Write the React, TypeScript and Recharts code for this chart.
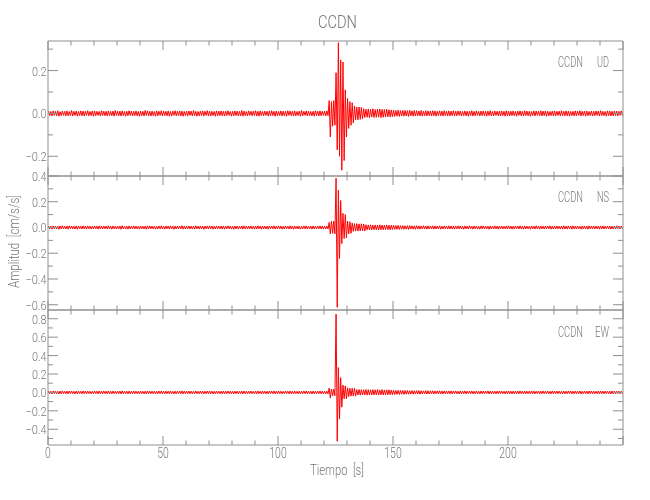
import React from "react";
import { LineChart, Line, XAxis, YAxis } from "recharts";

// tiempo (s) y amplitudes en milésimas de cm/s/s: pico alto / pico bajo por cada segundo
const timeTicks = [0, 10, 20, 30, 40, 50, 60, 70, 80, 90, 100, 110, 120, 130, 140, 150, 160, 170, 180, 190, 200, 210, 220, 230, 240, 250];
const timeLabels = [0, 50, 100, 150, 200];

const udHigh = [
  11, 9, 12, 10, 13, 8, 11, 10, 12, 9, 14, 10, 11, 9, 12, 11, 10, 13, 9, 11, 12, 10, 9, 13, 11,
  10, 12, 9, 11, 14, 10, 11, 12, 9, 10, 13, 11, 10, 12, 9, 11, 10, 14, 12, 10, 11, 9, 12, 10, 13,
  11, 10, 12, 9, 11, 13, 10, 12, 11, 9, 10, 12, 11, 14, 10, 9, 11, 12, 10, 13, 11, 10, 9, 12, 11,
  12, 10, 11, 13, 9, 10, 12, 11, 10, 14, 11, 9, 12, 10, 11, 13, 10, 12, 9, 11, 10, 12, 13, 10, 11,
  9, 12, 11, 10, 13, 11, 10, 12, 9, 11, 14, 10, 12, 11, 9, 10, 13, 11, 12, 10, 11, 12, 60, 55, 60,
  190, 330, 250, 240, 110, 70, 55, 50, 35, 30, 30, 28, 22, 20, 21, 19, 22, 18, 20, 21, 19, 18, 20, 17, 16,
  15, 14, 16, 13, 15, 14, 13, 15, 12, 14, 13, 12, 14, 11, 13, 12, 11, 13, 12, 10, 12, 11, 13, 10, 12,
  11, 13, 10, 12, 11, 9, 12, 10, 11, 13, 10, 12, 9, 11, 12, 10, 11, 13, 9, 12, 10, 11, 12, 10, 13,
  11, 10, 12, 9, 11, 12, 10, 13, 11, 10, 9, 12, 11, 10, 13, 11, 12, 10, 9, 11, 12, 10, 11, 13, 10,
  12, 11, 9, 10, 12, 11, 13, 10, 11, 12, 9, 11, 10, 12, 11, 13, 10, 9, 12, 11, 10, 12, 11, 10, 12,
];
const udLow = [
  -10, -12, -9, -11, -13, -10, -9, -12, -11, -10, -12, -9, -13, -10, -11, -12, -9, -11, -10, -13, -11, -9, -12, -10, -11,
  -12, -10, -11, -13, -9, -11, -12, -10, -13, -11, -9, -12, -10, -11, -13, -10, -12, -9, -11, -12, -10, -13, -11, -9, -12,
  -10, -11, -13, -12, -9, -11, -10, -12, -13, -10, -11, -9, -12, -10, -13, -11, -10, -12, -9, -11, -12, -10, -13, -11, -10,
  -11, -12, -10, -9, -13, -11, -10, -12, -11, -13, -10, -12, -9, -11, -10, -12, -13, -10, -11, -9, -12, -11, -10, -13, -11,
  -10, -12, -11, -13, -9, -10, -12, -11, -10, -13, -11, -9, -12, -10, -11, -13, -10, -12, -11, -9, -12, -10, -110, -60, -55,
  -170, -200, -265, -220, -110, -70, -55, -45, -30, -30, -28, -25, -19, -18, -20, -17, -19, -18, -17, -20, -18, -17, -16, -17, -15,
  -14, -13, -14, -12, -13, -12, -14, -11, -13, -12, -11, -12, -13, -11, -12, -10, -12, -11, -13, -10, -11, -12, -10, -11, -12,
  -10, -12, -11, -9, -12, -10, -11, -13, -10, -12, -11, -9, -12, -10, -11, -13, -10, -11, -12, -9, -11, -12, -10, -13, -11,
  -12, -10, -11, -13, -9, -11, -12, -10, -11, -13, -10, -12, -9, -11, -12, -10, -13, -11, -10, -12, -11, -9, -12, -10, -11,
  -11, -13, -10, -12, -11, -9, -12, -10, -13, -11, -10, -12, -11, -9, -12, -10, -11, -13, -10, -12, -11, -10, -12, -9, -11,
];

const nsHigh = [
  12, 10, 13, 11, 9, 12, 14, 10, 11, 13, 12, 9, 11, 12, 10, 13, 11, 12, 10, 9, 12, 11, 13, 10, 12,
  11, 13, 10, 12, 9, 11, 12, 14, 10, 11, 12, 10, 13, 11, 9, 12, 10, 11, 13, 12, 10, 11, 9, 12, 13,
  10, 12, 11, 13, 9, 11, 10, 12, 14, 11, 10, 12, 11, 9, 13, 10, 12, 11, 10, 12, 13, 11, 9, 12, 10,
  11, 12, 10, 13, 11, 9, 12, 11, 10, 12, 13, 10, 11, 12, 9, 11, 13, 10, 12, 11, 10, 12, 11, 13, 10,
  12, 11, 9, 12, 10, 13, 11, 12, 10, 11, 9, 12, 13, 10, 11, 12, 10, 11, 13, 12, 10, 11, 40, 50, 50,
  383, 290, 210, 110, 100, 50, 45, 35, 30, 30, 28, 29, 27, 22, 20, 21, 19, 20, 18, 21, 19, 18, 20, 17, 18,
  16, 15, 16, 14, 15, 13, 14, 15, 13, 12, 14, 13, 12, 14, 11, 13, 12, 13, 11, 12, 13, 10, 12, 11, 13,
  12, 10, 11, 13, 12, 10, 12, 11, 13, 10, 12, 11, 9, 12, 13, 11, 10, 12, 11, 13, 10, 12, 11, 9, 12,
  13, 11, 10, 12, 11, 13, 10, 12, 11, 9, 12, 10, 13, 11, 12, 10, 11, 12, 13, 10, 11, 12, 10, 11, 13,
  10, 12, 11, 13, 10, 12, 9, 11, 12, 10, 13, 11, 12, 10, 11, 12, 13, 10, 11, 12, 10, 11, 13, 12, 11,
];
const nsLow = [
  -11, -13, -10, -12, -14, -11, -10, -12, -13, -10, -11, -12, -14, -10, -12, -11, -13, -10, -12, -11, -10, -13, -11, -12, -10,
  -12, -11, -13, -10, -12, -11, -14, -10, -12, -13, -11, -10, -12, -11, -13, -10, -12, -14, -11, -10, -12, -13, -11, -10, -12,
  -13, -10, -12, -11, -14, -12, -10, -11, -13, -12, -10, -11, -12, -13, -10, -12, -11, -14, -10, -12, -11, -13, -12, -10, -11,
  -12, -13, -11, -10, -12, -14, -11, -12, -10, -13, -11, -12, -10, -11, -13, -12, -10, -14, -11, -12, -13, -10, -11, -12, -10,
  -11, -13, -12, -10, -12, -11, -14, -10, -12, -13, -11, -10, -12, -11, -13, -12, -10, -11, -12, -13, -11, -12, -50, -45, -50,
  -620, -240, -125, -86, -80, -50, -45, -30, -28, -28, -27, -26, -28, -18, -18, -19, -17, -18, -20, -17, -18, -16, -17, -18, -16,
  -15, -14, -15, -13, -14, -13, -15, -12, -13, -14, -12, -13, -11, -12, -13, -12, -11, -13, -12, -11, -13, -12, -10, -12, -11,
  -12, -13, -11, -10, -12, -14, -11, -12, -10, -13, -11, -12, -13, -10, -11, -12, -14, -11, -12, -10, -13, -11, -12, -10, -12,
  -11, -13, -12, -10, -12, -11, -13, -12, -10, -14, -11, -12, -10, -13, -11, -12, -10, -11, -13, -12, -11, -10, -12, -13, -11,
  -12, -10, -13, -11, -12, -10, -14, -11, -12, -13, -10, -11, -12, -10, -13, -11, -12, -10, -11, -13, -12, -11, -10, -12, -11,
];

const ewHigh = [
  15, 13, 16, 14, 12, 15, 17, 13, 14, 16, 15, 12, 14, 15, 13, 16, 14, 15, 13, 12, 15, 14, 16, 13, 15,
  14, 16, 13, 15, 12, 14, 15, 17, 13, 14, 15, 13, 16, 14, 12, 15, 13, 14, 16, 15, 13, 14, 12, 15, 16,
  13, 15, 14, 16, 12, 14, 13, 15, 17, 14, 13, 15, 14, 12, 16, 13, 15, 14, 13, 15, 16, 14, 12, 15, 13,
  14, 15, 13, 16, 14, 12, 15, 14, 13, 15, 16, 13, 14, 15, 12, 14, 16, 13, 15, 14, 13, 15, 14, 16, 13,
  15, 14, 12, 15, 13, 16, 14, 15, 13, 14, 12, 15, 16, 13, 14, 15, 13, 14, 16, 15, 13, 14, 47, 36, 36,
  850, 270, 160, 80, 70, 50, 45, 45, 45, 30, 32, 30, 29, 31, 30, 28, 30, 29, 31, 28, 30, 27, 29, 28, 26,
  24, 22, 23, 21, 22, 20, 21, 19, 20, 18, 19, 20, 18, 17, 19, 18, 17, 18, 16, 17, 18, 16, 17, 15, 16,
  17, 15, 16, 14, 16, 15, 17, 14, 15, 16, 14, 15, 13, 16, 15, 14, 16, 15, 13, 15, 14, 16, 15, 13, 15,
  16, 14, 15, 13, 15, 16, 14, 15, 13, 14, 16, 15, 13, 15, 14, 16, 14, 15, 13, 16, 14, 15, 14, 13, 15,
  14, 16, 15, 13, 15, 14, 16, 13, 15, 14, 16, 15, 14, 13, 15, 16, 14, 15, 13, 14, 16, 15, 14, 15, 13,
];
const ewLow = [
  -14, -16, -13, -15, -17, -14, -13, -15, -16, -13, -14, -15, -17, -13, -15, -14, -16, -13, -15, -14, -13, -16, -14, -15, -13,
  -15, -14, -16, -13, -15, -14, -17, -13, -15, -16, -14, -13, -15, -14, -16, -13, -15, -17, -14, -13, -15, -16, -14, -13, -15,
  -16, -13, -15, -14, -17, -15, -13, -14, -16, -15, -13, -14, -15, -16, -13, -15, -14, -17, -13, -15, -14, -16, -15, -13, -14,
  -15, -16, -14, -13, -15, -17, -14, -15, -13, -16, -14, -15, -13, -14, -16, -15, -13, -17, -14, -15, -16, -13, -14, -15, -13,
  -14, -16, -15, -13, -15, -14, -17, -13, -15, -16, -14, -13, -15, -14, -16, -15, -13, -14, -15, -16, -14, -15, -60, -36, -36,
  -530, -290, -160, -70, -70, -45, -40, -40, -40, -28, -30, -28, -27, -29, -28, -27, -28, -26, -29, -27, -28, -26, -27, -25, -24,
  -23, -21, -22, -20, -21, -19, -20, -18, -19, -17, -18, -19, -17, -16, -18, -17, -16, -17, -15, -16, -17, -15, -16, -14, -15,
  -16, -14, -15, -17, -15, -14, -16, -13, -15, -16, -14, -15, -17, -14, -15, -13, -16, -14, -15, -16, -13, -15, -14, -16, -15,
  -14, -16, -15, -13, -15, -14, -16, -15, -13, -17, -14, -15, -13, -16, -14, -15, -13, -14, -16, -15, -14, -13, -15, -16, -14,
  -15, -13, -16, -14, -15, -13, -17, -14, -15, -16, -13, -14, -15, -13, -16, -14, -15, -13, -14, -16, -15, -14, -13, -15, -14,
];

const udTicks = [-0.2, -0.1, 0, 0.1, 0.2, 0.3];
const udLabels = [-0.2, 0, 0.2];
const nsTicks = [-0.6, -0.5, -0.4, -0.3, -0.2, -0.1, 0, 0.1, 0.2, 0.3, 0.4];
const nsLabels = [-0.6, -0.4, -0.2, 0, 0.2, 0.4];
const ewTicks = [-0.5, -0.4, -0.3, -0.2, -0.1, 0, 0.1, 0.2, 0.3, 0.4, 0.5, 0.6, 0.7, 0.8];
const ewLabels = [-0.4, -0.2, 0, 0.2, 0.4, 0.6, 0.8];

const AXIS = "#8f8f8f";
const TEXT = "#777777";
const FONT = 'Roboto, "DejaVu Sans", sans-serif';
const LEFT = 48;
const RIGHT = 623;
// capa propia: suavizado en gris, sin franjas de color en los textos estrechos
const LAYER = { position: "absolute", left: 0, top: 0, willChange: "transform" } as const;

const toPoints = (hi: number[], lo: number[]) =>
  hi.flatMap((h, i) => [
    { t: i + 0.25, v: h / 1000 },
    { t: i + 0.75, v: lo[i] / 1000 },
  ]);

const isIn = (list: number[], v: number) => list.some((l) => Math.abs(l - v) < 1e-6);
const fmt = (v: number) => (Math.abs(v) < 1e-9 ? "0.0" : v.toFixed(1).replace("-", "\u2212"));
// ancho estrecho de las etiquetas, como la fuente vectorial del original
const narrow = (s: string) =>
  s.split("").reduce((w, c) => w + (c === "." ? 3 : c === "\u2212" ? 6.5 : 5.8), 0);

const NarrowText = ({ children, ...rest }: any) => (
  <text
    fill={TEXT}
    fontFamily={FONT}
    fontWeight={300}
    textLength={narrow(String(children))}
    lengthAdjust="spacingAndGlyphs"
    {...rest}
  >
    {children}
  </text>
);

const XTick = ({ x, y, payload, side, showLabel }: any) => {
  const v = payload.value;
  const major = v % 50 === 0;
  const len = major ? 9 : 4.5;
  const dir = side === "bottom" ? -1 : 1;
  return (
    <g>
      <line x1={x} x2={x} y1={y} y2={y + dir * len} stroke={AXIS} />
      {showLabel && isIn(timeLabels, v) && (
        <NarrowText x={x} y={y + 13} textAnchor="middle" fontSize={14}>
          {String(v)}
        </NarrowText>
      )}
    </g>
  );
};

const YTick = ({ x, y, payload, side, labels }: any) => {
  const v = payload.value;
  const major = isIn(labels, v);
  const len = major ? 10 : 5;
  const dir = side === "left" ? 1 : -1;
  return (
    <g>
      <line x1={x} x2={x + dir * len} y1={y} y2={y} stroke={AXIS} />
      {side === "left" && major && (
        <NarrowText x={x - 1.5} y={y + 5} textAnchor="end" fontSize={13}>
          {fmt(v)}
        </NarrowText>
      )}
    </g>
  );
};

type PanelProps = {
  hi: number[];
  lo: number[];
  domain: [number, number];
  ticks: number[];
  labels: number[];
  top: number;
  bottom: number;
  timeAxis?: boolean;
};

const Panel = ({ hi, lo, domain, ticks, labels, top, bottom, timeAxis }: PanelProps) => {
  const data = toPoints(hi, lo);
  return (
    <div style={LAYER}>
      <LineChart
        width={650}
        height={500}
        data={data}
        margin={{ top: top - 1, right: 0, bottom: 500 - bottom - 1, left: 0 }}
      >
        <XAxis
          xAxisId="b"
          type="number"
          dataKey="t"
          domain={[0, 250]}
          ticks={timeTicks}
          interval={0}
          height={1}
          allowDataOverflow
          tickSize={0}
          tickMargin={0}
          tickLine={false}
          axisLine={{ stroke: AXIS }}
          tick={(p: any) => <XTick {...p} side="bottom" showLabel={timeAxis} />}
        />
        <XAxis
          xAxisId="t"
          orientation="top"
          type="number"
          dataKey="t"
          domain={[0, 250]}
          ticks={timeTicks}
          interval={0}
          height={1}
          allowDataOverflow
          tickSize={0}
          tickMargin={0}
          tickLine={false}
          axisLine={{ stroke: AXIS }}
          tick={(p: any) => <XTick {...p} side="top" />}
        />
        <YAxis
          yAxisId="l"
          type="number"
          domain={domain}
          ticks={ticks}
          interval={0}
          width={LEFT}
          allowDataOverflow
          tickSize={0}
          tickMargin={0}
          tickLine={false}
          axisLine={{ stroke: AXIS }}
          tick={(p: any) => <YTick {...p} side="left" labels={labels} />}
        />
        <YAxis
          yAxisId="r"
          orientation="right"
          type="number"
          domain={domain}
          ticks={ticks}
          interval={0}
          width={650 - RIGHT}
          allowDataOverflow
          tickSize={0}
          tickMargin={0}
          tickLine={false}
          axisLine={{ stroke: AXIS }}
          tick={(p: any) => <YTick {...p} side="right" labels={labels} />}
        />
        <Line
          xAxisId="b"
          yAxisId="l"
          type="linear"
          dataKey="v"
          stroke="#ff0000"
          strokeWidth={1}
          dot={false}
          isAnimationActive={false}
        />
        <Line
          xAxisId="t"
          yAxisId="r"
          type="linear"
          dataKey="v"
          stroke="none"
          dot={false}
          isAnimationActive={false}
        />
      </LineChart>
    </div>
  );
};

export default function App() {
  const t = { fill: TEXT, fontFamily: FONT, fontWeight: 300, lengthAdjust: "spacingAndGlyphs" } as any;
  return (
    <div style={{ position: "absolute", left: 0, top: 0, width: 650, height: 500, background: "#fff" }}>
      <Panel hi={udHigh} lo={udLow} domain={[-0.292, 0.338]} ticks={udTicks} labels={udLabels} top={41} bottom={176} />
      <Panel hi={nsHigh} lo={nsLow} domain={[-0.641, 0.4]} ticks={nsTicks} labels={nsLabels} top={176} bottom={310} />
      <Panel hi={ewHigh} lo={ewLow} domain={[-0.571, 0.895]} ticks={ewTicks} labels={ewLabels} top={310} bottom={445} timeAxis />
      <svg width={650} height={500} style={{ ...LAYER, pointerEvents: "none" }}>
        <text x={318} y={28} fontSize={19} textLength={39} {...t}>CCDN</text>
        <text x={310} y={475} fontSize={15} textLength={54} {...t}>Tiempo&#160;&#160;[s]</text>
        <text x={19} y={288} fontSize={15} textLength={93} transform="rotate(-90 19 288)" {...t}>
          Amplitud&#160;&#160;[cm/s/s]
        </text>
        <text x={558} y={67} fontSize={14} textLength={25} {...t}>CCDN</text>
        <text x={597} y={67} fontSize={14} textLength={12} {...t}>UD</text>
        <text x={558} y={202} fontSize={14} textLength={25} {...t}>CCDN</text>
        <text x={597} y={202} fontSize={14} textLength={12} {...t}>NS</text>
        <text x={558} y={337} fontSize={14} textLength={25} {...t}>CCDN</text>
        <text x={595} y={337} fontSize={14} textLength={14} {...t}>EW</text>
      </svg>
    </div>
  );
}
